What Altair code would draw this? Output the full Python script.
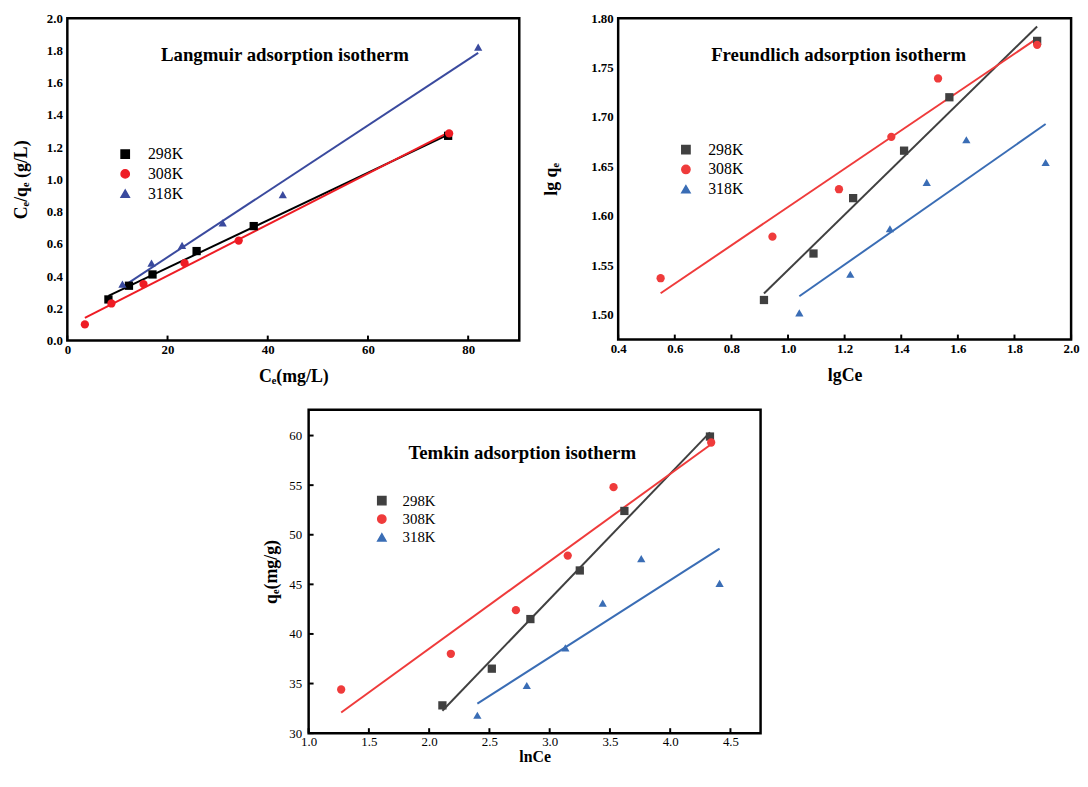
import altair as alt
import pandas as pd

# ---------------- data ----------------
series = ["298K", "308K", "318K"]

# Langmuir: Ce (mg/L) vs Ce/qe (g/L)
lang_x_298 = [8.2, 12.3, 17.0, 25.8, 37.2, 76.0]
lang_y_298 = [0.255, 0.34, 0.41, 0.555, 0.71, 1.27]
lang_x_308 = [3.5, 8.8, 15.2, 23.4, 34.2, 76.2]
lang_y_308 = [0.10, 0.23, 0.35, 0.48, 0.62, 1.285]
lang_x_318 = [11.0, 16.8, 22.9, 31.0, 43.0, 82.0]
lang_y_318 = [0.35, 0.48, 0.59, 0.73, 0.905, 1.82]

# Freundlich: lgCe vs lg qe
fr_x_298 = [0.915, 1.09, 1.23, 1.41, 1.57, 1.88]
fr_y_298 = [1.515, 1.562, 1.618, 1.666, 1.720, 1.777]
fr_x_308 = [0.55, 0.945, 1.18, 1.365, 1.53, 1.88]
fr_y_308 = [1.537, 1.579, 1.627, 1.680, 1.739, 1.773]
fr_x_318 = [1.04, 1.22, 1.36, 1.49, 1.63, 1.91]
fr_y_318 = [1.502, 1.541, 1.587, 1.634, 1.677, 1.654]

# Temkin: lnCe vs qe (mg/g)
tk_x_298 = [2.11, 2.52, 2.84, 3.25, 3.62, 4.33]
tk_y_298 = [32.8, 36.5, 41.5, 46.4, 52.4, 59.9]
tk_x_308 = [1.27, 2.18, 2.72, 3.15, 3.53, 4.34]
tk_y_308 = [34.4, 38.0, 42.4, 47.9, 54.8, 59.3]
tk_x_318 = [2.40, 2.81, 3.13, 3.44, 3.76, 4.41]
tk_y_318 = [31.8, 34.8, 38.6, 43.1, 47.6, 45.1]

lang_xticks = [0, 20, 40, 60, 80]
lang_yticks = [0.0, 0.2, 0.4, 0.6, 0.8, 1.0, 1.2, 1.4, 1.6, 1.8, 2.0]
fr_xticks = [0.4, 0.6, 0.8, 1.0, 1.2, 1.4, 1.6, 1.8, 2.0]
fr_yticks = [1.50, 1.55, 1.60, 1.65, 1.70, 1.75, 1.80]
tk_xticks = [1.0, 1.5, 2.0, 2.5, 3.0, 3.5, 4.0, 4.5]
tk_yticks = [30, 35, 40, 45, 50, 55, 60]

colors_a = ["#000000", "#ee1c24", "#3a4a9e"]
colors_b = ["#404040", "#ef3b3b", "#3a6db5"]
shapes = ["square", "circle", "triangle-up"]

FONT = "Liberation Serif"


def make_df(xs, ys):
    rows = []
    for s, xv, yv in zip(series, xs, ys):
        for a, b in zip(xv, yv):
            rows.append({"x": a, "y": b, "T": s})
    return pd.DataFrame(rows)


def panel(df, W, H, xdom, ydom, colors, xtitle, ytitle, xticks, yticks,
          xfmt, yfmt, label_bold, title_text, title_xy, leg_xy,
          y_extent, y_title_pad, x_label_pad, x_title_pad, y_label_pad,
          show_yticks, leg_font=16, leg_rowpad=4, leg_offset=15, x_title_size=18):
    lw = "bold" if label_bold else "normal"
    xaxis = alt.Axis(values=xticks, format=xfmt, domain=False, ticks=False, tickSize=0,
                     grid=False, labelFont=FONT, labelFontSize=13, labelFontWeight=lw,
                     labelColor="black", labelPadding=x_label_pad, title=xtitle,
                     titleFont=FONT, titleFontSize=x_title_size, titleFontWeight="bold",
                     titleColor="black", titlePadding=x_title_pad, labelFlush=False)
    yaxis = alt.Axis(values=yticks, format=yfmt, domain=False, ticks=False, tickSize=0,
                     grid=False, labelFont=FONT, labelFontSize=13, labelFontWeight=lw,
                     labelColor="black", labelPadding=y_label_pad, title=ytitle,
                     titleFont=FONT, titleFontSize=18, titleFontWeight="bold",
                     titleColor="black", titlePadding=y_title_pad,
                     minExtent=y_extent, maxExtent=y_extent, labelFlush=False)
    X = alt.X("x:Q", scale=alt.Scale(domain=xdom, nice=False, zero=False), axis=xaxis)
    Y = alt.Y("y:Q", scale=alt.Scale(domain=ydom, nice=False, zero=False), axis=yaxis)
    cscale = alt.Scale(domain=series, range=colors)
    sscale = alt.Scale(domain=series, range=shapes)
    legend = alt.Legend(orient="none", legendX=leg_xy[0], legendY=leg_xy[1], title=None,
                        labelFont=FONT, labelFontSize=leg_font, labelColor="black",
                        symbolSize=70, labelOffset=leg_offset, rowPadding=leg_rowpad,
                        padding=0, symbolType="circle")

    base = alt.Chart(df)
    lines = base.transform_regression("x", "y", groupby=["T"]).mark_line(
        strokeWidth=2).encode(x=X, y=Y, color=alt.Color("T:N", scale=cscale, legend=legend))
    points = base.mark_point(filled=True, size=70, opacity=1).encode(
        x=X, y=Y,
        color=alt.Color("T:N", scale=cscale, legend=legend),
        shape=alt.Shape("T:N", scale=sscale, legend=legend))
    frame = alt.Chart(pd.DataFrame({"a": [0]})).mark_rect(
        fill=None, stroke="black", strokeWidth=2.5).encode(
        x=alt.value(0), x2=alt.value(W), y=alt.value(0), y2=alt.value(H))
    xt = alt.Chart(pd.DataFrame({"x": xticks})).mark_rule(color="black", strokeWidth=2).encode(
        x=X, y=alt.value(H), y2=alt.value(H - 5))
    title = alt.Chart(pd.DataFrame({"t": [title_text]})).mark_text(
        font=FONT, fontSize=19, fontWeight="bold", color="black").encode(
        x=alt.value(title_xy[0]), y=alt.value(title_xy[1]), text="t:N")
    layers = [frame, xt]
    if show_yticks:
        yt = alt.Chart(pd.DataFrame({"y": yticks})).mark_rule(color="black", strokeWidth=2).encode(
            y=Y, x=alt.value(0), x2=alt.value(5))
        layers.append(yt)
    layers += [lines, points, title]
    return alt.layer(*layers).properties(width=W, height=H)


p1 = panel(make_df([lang_x_298, lang_x_308, lang_x_318], [lang_y_298, lang_y_308, lang_y_318]),
           457, 326, [0, 90.2], [0, 2.0], colors_a, "Cₑ(mg/L)", "Cₑ/qₑ (g/L)",
           lang_xticks, lang_yticks, "d", ".1f", True,
           "Langmuir adsorption isotherm", (220, 37.5), (50.5, 129.5),
           y_extent=21, y_title_pad=16, x_label_pad=3, x_title_pad=11, y_label_pad=5,
           show_yticks=False, leg_offset=15)

p2 = panel(make_df([fr_x_298, fr_x_308, fr_x_318], [fr_y_298, fr_y_308, fr_y_318]),
           458, 325, [0.4, 2.0], [1.475, 1.80], colors_b, "lgCe", "lg qₑ",
           fr_xticks, fr_yticks, ".1f", ".2f", True,
           "Freundlich adsorption isotherm", (223, 37.5), (60.5, 125),
           y_extent=29, y_title_pad=29, x_label_pad=3, x_title_pad=11, y_label_pad=5,
           show_yticks=False, leg_offset=14.5)

p3 = panel(make_df([tk_x_298, tk_x_308, tk_x_318], [tk_y_298, tk_y_308, tk_y_318]),
           457, 327, [1.0, 4.75], [30, 62.6], colors_b, "lnCe", "qₑ(mg/g)",
           tk_xticks, tk_yticks, ".1f", "d", False,
           "Temkin adsorption isotherm", (216, 44), (66.5, 84.5),
           y_extent=20, y_title_pad=8, x_label_pad=3, x_title_pad=0, y_label_pad=7,
           show_yticks=True, leg_font=15, leg_rowpad=2.5, leg_offset=13.5, x_title_size=16)

spacer = alt.Chart(pd.DataFrame({"a": [0]})).mark_point(opacity=0).encode(
    x=alt.value(0), y=alt.value(0)).properties(width=198, height=10)

row1 = alt.hconcat(p1, p2, spacing=22).resolve_scale(
    color="independent", shape="independent").resolve_legend(
    color="independent", shape="independent")
row2 = alt.hconcat(spacer, p3, spacing=0).resolve_scale(
    color="independent", shape="independent")

chart = alt.vconcat(row1, row2, spacing=22).resolve_scale(
    color="independent", shape="independent").resolve_legend(
    color="independent", shape="independent").properties(
    padding={"left": 5, "top": 0, "right": 0, "bottom": 0},
    background="white").configure_view(stroke=None)

chart.save("out.html", embed_options={"renderer": "svg", "actions": False})
